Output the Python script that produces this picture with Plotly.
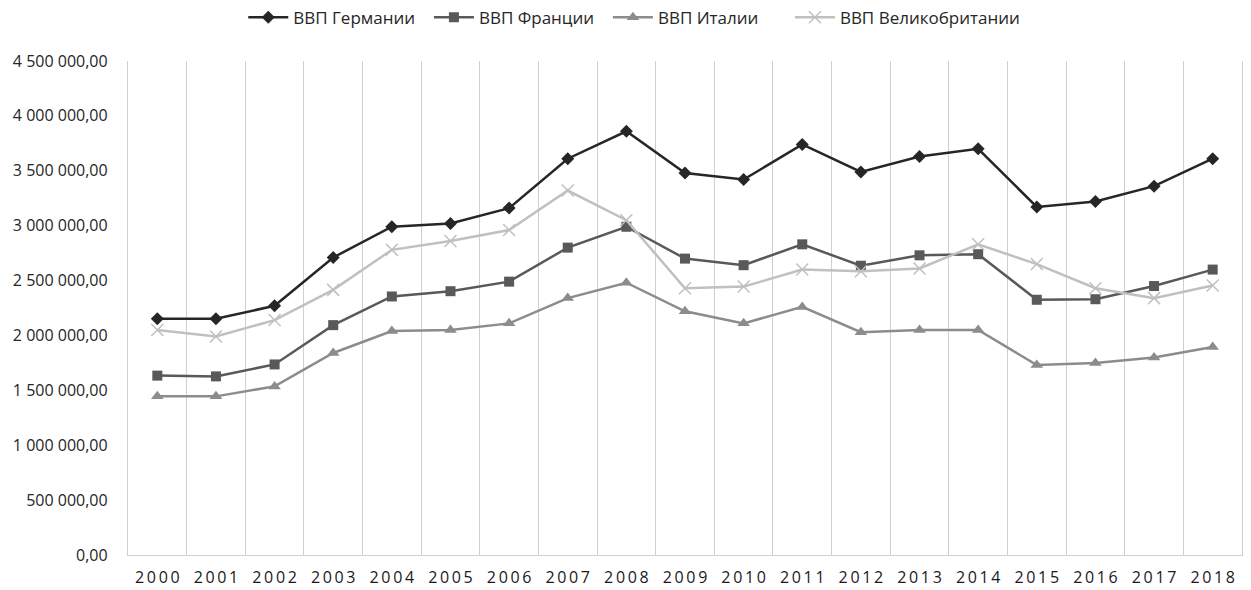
import plotly.graph_objects as go

years = [str(y) for y in range(2000, 2019)]
year_labels = ["\u2009".join(list(y)) for y in years]

germany = [2152000, 2152000, 2270000, 2710000, 2990000, 3020000, 3160000, 3610000, 3860000,
           3480000, 3420000, 3740000, 3490000, 3630000, 3700000, 3170000, 3220000, 3360000, 3610000]
france = [1634000, 1627000, 1736000, 2094000, 2355000, 2403000, 2490000, 2800000, 2990000,
          2700000, 2640000, 2830000, 2635000, 2730000, 2740000, 2325000, 2330000, 2450000, 2600000]
italy = [1445000, 1445000, 1536000, 1840000, 2040000, 2050000, 2110000, 2340000, 2480000,
         2220000, 2110000, 2260000, 2030000, 2050000, 2050000, 1730000, 1750000, 1800000, 1895000]
uk = [2050000, 1990000, 2140000, 2415000, 2780000, 2860000, 2960000, 3320000, 3050000,
      2430000, 2445000, 2600000, 2585000, 2610000, 2830000, 2650000, 2430000, 2340000, 2455000]

series_names = ["ВВП Германии", "ВВП Франции", "ВВП Италии", "ВВП Великобритании"]
y_tick_vals = [0, 500000, 1000000, 1500000, 2000000, 2500000, 3000000, 3500000, 4000000, 4500000]
y_tick_text = ["0,00", "500 000,00", "1 000 000,00", "1 500 000,00", "2 000 000,00",
               "2 500 000,00", "3 000 000,00", "3 500 000,00", "4 000 000,00", "4 500 000,00"]

styles = [
    dict(color="#262626", symbol="diamond", size=10, mline=0, pad=2),
    dict(color="#595959", symbol="square", size=10, mline=0, pad=2),
    dict(color="#8c8c8c", symbol="triangle-up", size=11, mline=0, pad=6),
    dict(color="#c0c0c0", symbol="x-thin", size=12, mline=1.5, pad=0),
]

fig = go.Figure()
for name, vals, st in zip(series_names, [germany, france, italy, uk], styles):
    marker = dict(symbol=st["symbol"], size=st["size"], color=st["color"])
    if st["mline"]:
        marker["line"] = dict(color=st["color"], width=st["mline"])
    fig.add_trace(go.Scatter(
        x=years, y=vals, name=name + "\u00a0" * st["pad"], mode="lines+markers",
        line=dict(color=st["color"], width=2.5),
        marker=marker,
    ))

fig.update_layout(
    width=1251, height=590,
    margin=dict(l=128, r=9, t=61, b=35, autoexpand=False),
    paper_bgcolor="white", plot_bgcolor="white",
    font=dict(family="Open Sans", size=16, color="#262626"),
    legend=dict(orientation="h", xref="container", x=0.507, xanchor="center",
                yref="container", y=0.97, yanchor="middle",
                font=dict(family="Open Sans", size=17, color="#262626"),
                itemwidth=40, tracegroupgap=0),
    showlegend=True,
)
fig.update_xaxes(
    type="category", tickmode="array", tickvals=years, ticktext=year_labels,
    range=[-0.5, len(years) - 0.5], autorange=False,
    tickson="boundaries", showgrid=True, gridcolor="#cfcfcf", gridwidth=1.3,
    showline=True, linecolor="#cfcfcf", linewidth=1.3, automargin=False,
    ticks="", tickfont=dict(family="Open Sans", size=16, color="#1a1a1a"),
    ticklabelstandoff=8,
)
fig.update_yaxes(
    range=[0, 4500000], tickmode="array", tickvals=y_tick_vals, ticktext=y_tick_text,
    showgrid=False, zeroline=False, automargin=False,
    showline=True, mirror=True, linecolor="#cfcfcf", linewidth=1.3,
    ticks="", tickfont=dict(family="Open Sans", size=16, color="#262626"),
    ticklabelstandoff=16,
)

fig.write_html(
    "out.html",
    config={"displayModeBar": False},
    post_script="document.body.style.margin='0';document.body.style.overflow='hidden';",
)
